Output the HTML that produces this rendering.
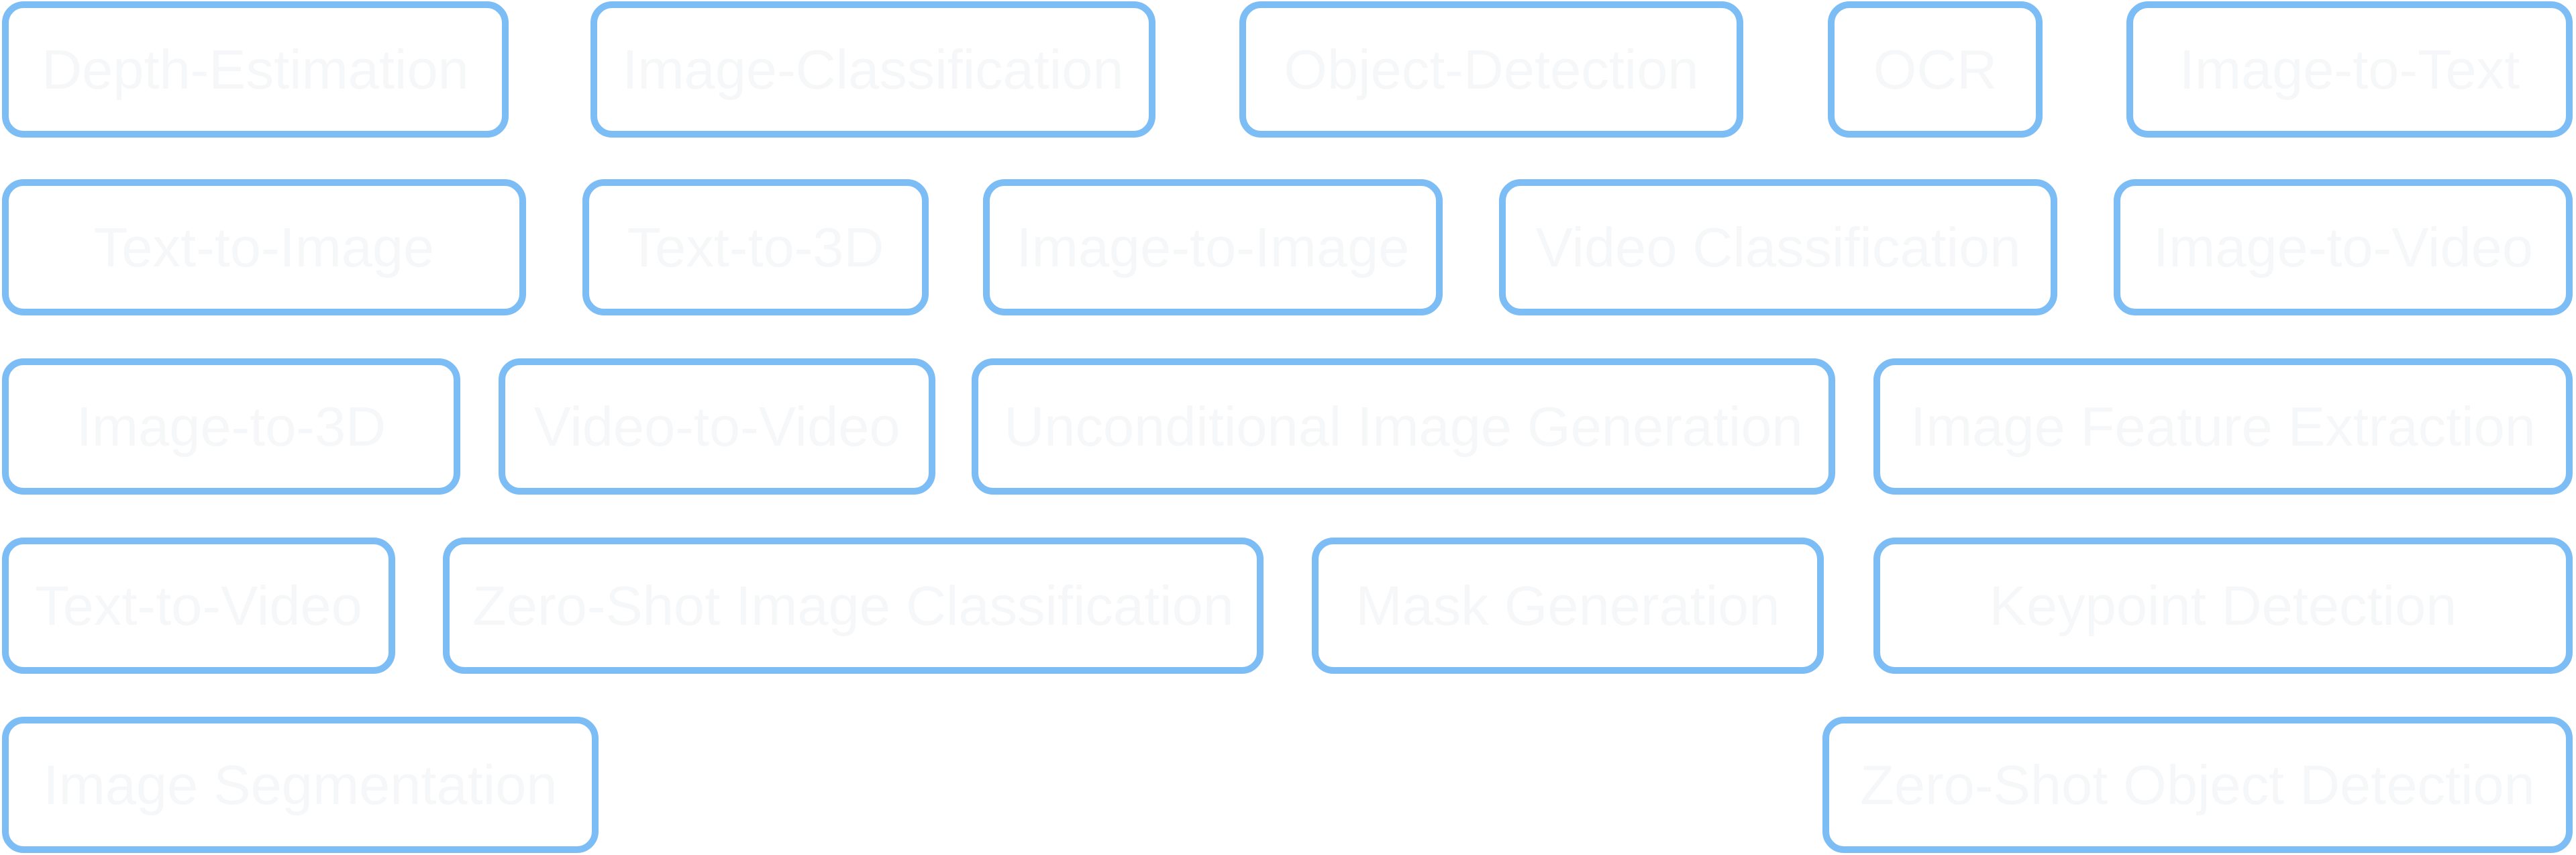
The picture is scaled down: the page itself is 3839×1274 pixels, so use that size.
<!DOCTYPE html>
<html><head><meta charset="utf-8"><style>
html,body{margin:0;padding:0;background:#fff;}
body{width:3839px;height:1274px;position:relative;overflow:hidden;font-family:"Liberation Sans",sans-serif;}
.b{position:absolute;box-sizing:border-box;border:10px solid #7dbdf6;border-radius:32px;background:#fff;display:flex;align-items:center;justify-content:center;color:#f6f7f8;font-size:83px;white-space:nowrap;height:203px;}
</style></head><body>
<div class="b" style="left:3px;top:2px;width:755px">Depth-Estimation</div>
<div class="b" style="left:880px;top:2px;width:842px">Image-Classification</div>
<div class="b" style="left:1847px;top:2px;width:751px">Object-Detection</div>
<div class="b" style="left:2724px;top:2px;width:320px">OCR</div>
<div class="b" style="left:3169px;top:2px;width:665px">Image-to-Text</div>

<div class="b" style="left:3px;top:267px;width:781px">Text-to-Image</div>
<div class="b" style="left:868px;top:267px;width:516px">Text-to-3D</div>
<div class="b" style="left:1465px;top:267px;width:685px">Image-to-Image</div>
<div class="b" style="left:2234px;top:267px;width:832px">Video Classification</div>
<div class="b" style="left:3150px;top:267px;width:684px">Image-to-Video</div>

<div class="b" style="left:3px;top:534px;width:683px">Image-to-3D</div>
<div class="b" style="left:743px;top:534px;width:651px">Video-to-Video</div>
<div class="b" style="left:1448px;top:534px;width:1287px">Unconditional Image Generation</div>
<div class="b" style="left:2792px;top:534px;width:1042px">Image Feature Extraction</div>

<div class="b" style="left:3px;top:801px;width:586px">Text-to-Video</div>
<div class="b" style="left:660px;top:801px;width:1223px">Zero-Shot Image Classification</div>
<div class="b" style="left:1955px;top:801px;width:763px">Mask Generation</div>
<div class="b" style="left:2792px;top:801px;width:1042px">Keypoint Detection</div>

<div class="b" style="left:3px;top:1068px;width:889px">Image Segmentation</div>
<div class="b" style="left:2716px;top:1068px;width:1118px">Zero-Shot Object Detection</div>
</body></html>
